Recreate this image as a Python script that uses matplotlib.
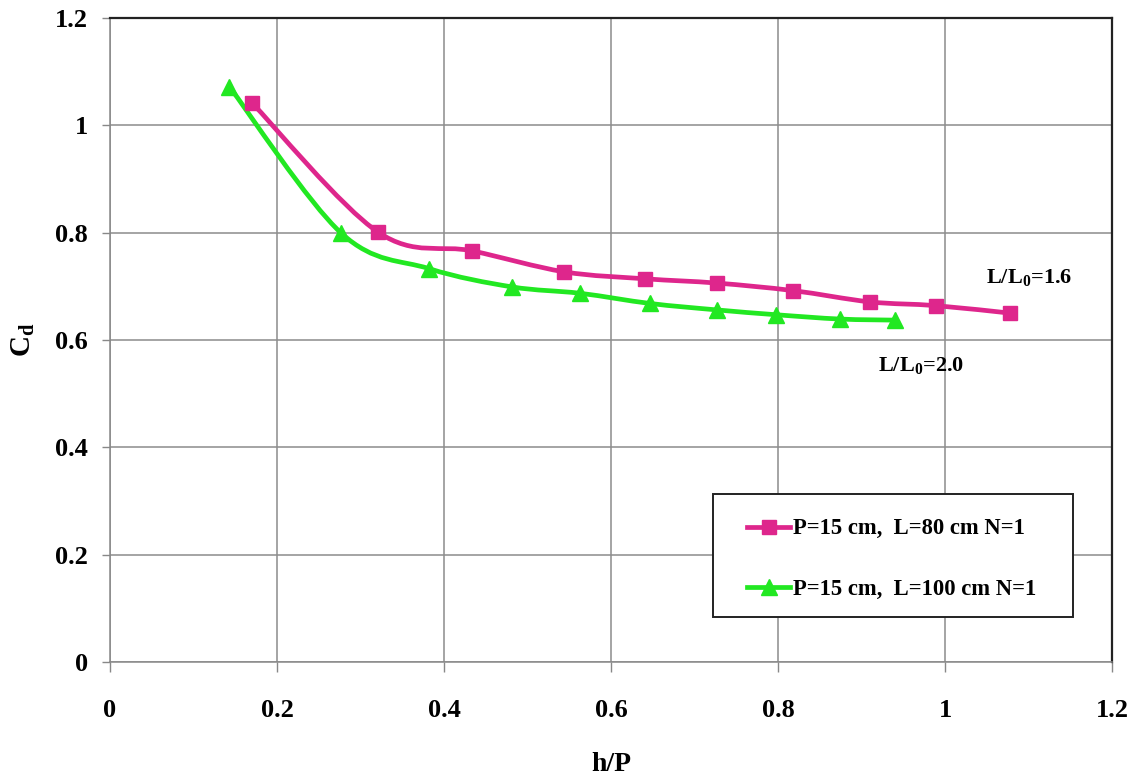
import numpy as np
import matplotlib
matplotlib.use("Agg")
import matplotlib.pyplot as plt
from matplotlib.path import Path
from matplotlib.patches import PathPatch, Rectangle
from matplotlib.lines import Line2D

# values
hp_80 = [0.170, 0.321, 0.434, 0.544, 0.641, 0.727, 0.818, 0.910, 0.989, 1.078]
cd_80 = [1.042, 0.801, 0.766, 0.727, 0.714, 0.706, 0.692, 0.671, 0.664, 0.650]

hp_100 = [0.143, 0.277, 0.382, 0.481, 0.563, 0.647, 0.727, 0.798, 0.874, 0.940]
cd_100 = [1.072, 0.799, 0.733, 0.699, 0.687, 0.668, 0.656, 0.647, 0.639, 0.637]

label_80 = "P=15 cm,  L=80 cm N=1"
label_100 = "P=15 cm,  L=100 cm N=1"
ticks = [0, 0.2, 0.4, 0.6, 0.8, 1, 1.2]
tick_labels = ["0", "0.2", "0.4", "0.6", "0.8", "1", "1.2"]

MAGENTA = "#DE268C"
GREEN = "#22E822"

plt.rcParams["font.family"] = ["Liberation Serif", "DejaVu Serif"]
plt.rcParams["font.weight"] = "bold"
plt.rcParams["mathtext.fontset"] = "custom"
plt.rcParams["mathtext.rm"] = "Liberation Serif:bold"
plt.rcParams["mathtext.bf"] = "Liberation Serif:bold"
plt.rcParams["mathtext.it"] = "Liberation Serif:bold"
plt.rcParams["mathtext.default"] = "bf"


def smooth_path(x, y):
    # Excel-style smoothed line: cubic Bezier through the points
    pts = np.column_stack([x, y])
    n = len(pts)
    verts = [pts[0]]
    codes = [Path.MOVETO]
    for i in range(n - 1):
        p0 = pts[max(i - 1, 0)]
        p1 = pts[i]
        p2 = pts[i + 1]
        p3 = pts[min(i + 2, n - 1)]
        c1 = p1 + (p2 - p0) / 6.0
        c2 = p2 - (p3 - p1) / 6.0
        verts += [c1, c2, p2]
        codes += [Path.CURVE4] * 3
    return Path(verts, codes)


fig = plt.figure(figsize=(11.36, 7.82), dpi=100)
ax = fig.add_axes([0.0968, 0.1535, 0.8821, 0.8235])

for x, y, c, m in [(hp_80, cd_80, MAGENTA, "s"), (hp_100, cd_100, GREEN, "^")]:
    ax.add_patch(PathPatch(smooth_path(x, y), facecolor="none", edgecolor=c,
                           lw=3.4, capstyle="round", joinstyle="round", zorder=3))
    ax.plot(x, y, ls="none", marker=m, ms=10 if m == "s" else 11,
            color=c, mec=c, zorder=4)

ax.set_xlim(0, 1.2)
ax.set_ylim(0, 1.2)
ax.set_xticks(ticks)
ax.set_xticklabels(tick_labels)
ax.set_yticks(ticks)
ax.set_yticklabels(tick_labels)
ax.tick_params(axis="x", length=7, width=1, color="#888888", pad=20, labelsize=19)
ax.tick_params(axis="y", length=6, width=1, color="#888888", pad=10, labelsize=19)
ax.grid(True, color="#8C8C8C", lw=1.1)
ax.set_axisbelow(True)

for s in ["left", "bottom"]:
    ax.spines[s].set_color("#888888")
    ax.spines[s].set_linewidth(1.1)
for s in ["top", "right"]:
    ax.spines[s].set_color("#222222")
    ax.spines[s].set_linewidth(1.6)

ax.set_xlabel("h/P", fontsize=20, fontweight="bold", labelpad=21)
ax.set_ylabel(r"C$_\mathbf{d}$", fontsize=21, fontweight="bold")
ax.yaxis.set_label_coords(-0.073, 0.5)

ax.text(1.049, 0.717, r"L/L$_\mathbf{0}$=1.6", fontsize=16, fontweight="bold",
        va="center", ha="left")
ax.text(0.920, 0.553, r"L/L$_\mathbf{0}$=2.0", fontsize=16, fontweight="bold",
        va="center", ha="left")

# legend frame drawn by hand so the padding matches the reference
ax.add_patch(Rectangle((0.602, 0.070), 0.359, 0.191, transform=ax.transAxes,
                       facecolor="white", edgecolor="#222222", lw=1.4, zorder=5))
handles = [
    Line2D([], [], color=MAGENTA, lw=3.4, marker="s", ms=10),
    Line2D([], [], color=GREEN, lw=3.4, marker="^", ms=11),
]
leg = ax.legend(handles, [label_80, label_100], loc="center left",
                bbox_to_anchor=(0.636, 0.1595), fontsize=16.3, frameon=False,
                handlelength=1.9, handletextpad=0.1, labelspacing=1.75,
                borderpad=0, borderaxespad=0)
leg.set_zorder(6)

fig.savefig("out.png", dpi=100, facecolor="white")
plt.close(fig)
